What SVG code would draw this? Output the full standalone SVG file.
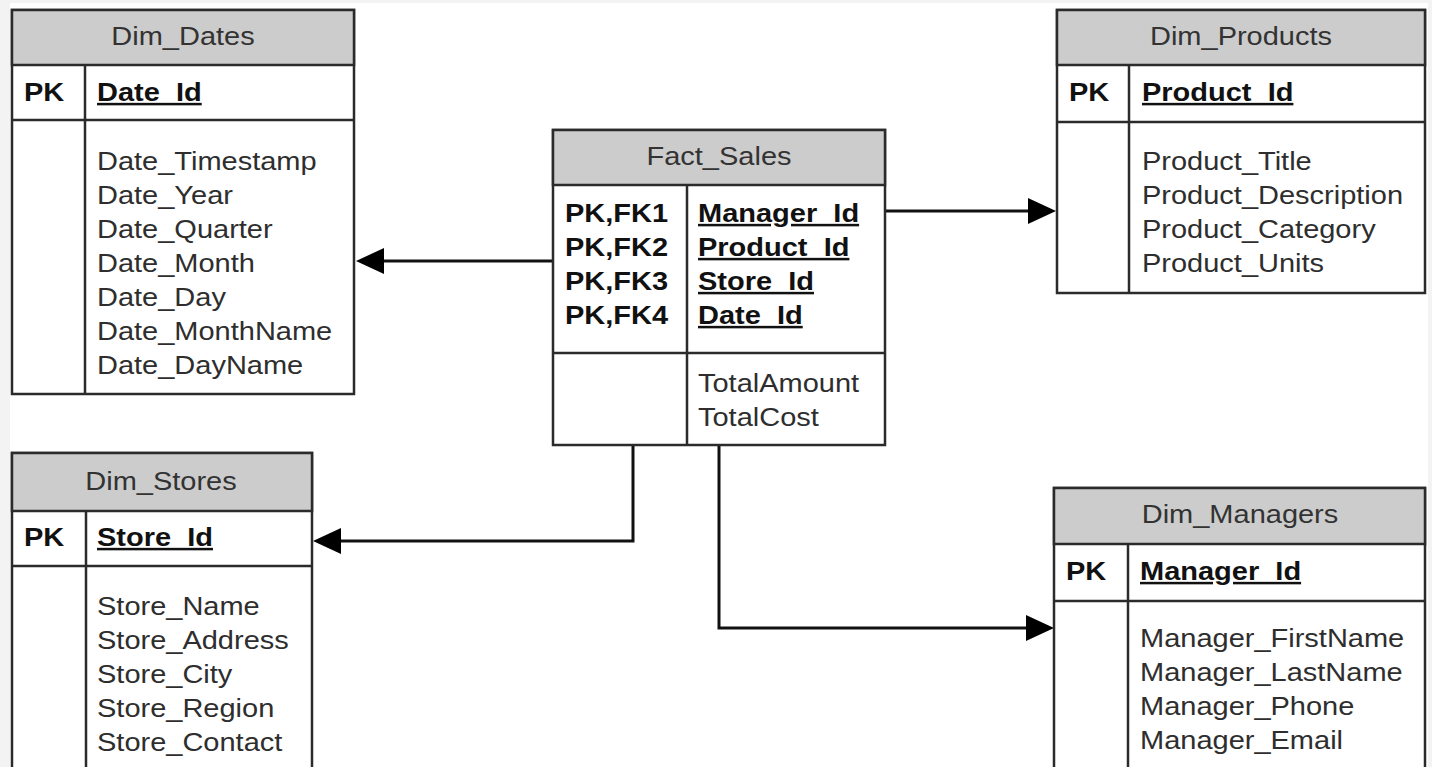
<svg xmlns="http://www.w3.org/2000/svg" width="1432" height="767" viewBox="0 0 1432 767">
<defs>
<style>
.frame{fill:#ffffff;stroke:#2b2b2b;stroke-width:2.5}
.hdr{fill:#cccccc;stroke:#2b2b2b;stroke-width:2.5}
.ln{stroke:#2b2b2b;stroke-width:2.5;fill:none}
.conn{stroke:#111111;stroke-width:3;fill:none}
text{font-family:"Liberation Sans",Arial,sans-serif;font-size:25px;fill:#2e2e2e}
.t{text-anchor:middle;fill:#333333}
.b{font-weight:bold;fill:#111111}
.u{text-decoration:underline}
</style>
<marker id="arr" markerUnits="userSpaceOnUse" markerWidth="30" markerHeight="28" refX="2" refY="13" orient="auto">
<path d="M0,0 L28,13 L0,26 z" fill="#000000"/>
</marker>
</defs>
<rect x="0" y="0" width="1432" height="767" fill="#f3f3f3"/>
<rect x="10" y="3" width="1418" height="764" fill="#ffffff"/>

<g id="connectors">
<path class="conn" d="M553,261 L382,261" marker-end="url(#arr)"/>
<path class="conn" d="M885,211 L1030,211" marker-end="url(#arr)"/>
<path class="conn" d="M633,445 L633,541 L339,541" marker-end="url(#arr)"/>
<path class="conn" d="M719,445 L719,628 L1028,628" marker-end="url(#arr)"/>
</g>

<g id="Dim_Dates">
<rect class="frame" x="12" y="10" width="342" height="384"/>
<rect class="hdr" x="12" y="10" width="342" height="55"/>
<line class="ln" x1="12" y1="120" x2="354" y2="120"/>
<line class="ln" x1="85" y1="65" x2="85" y2="394"/>
<text class="t" transform="translate(183 45) scale(1.16 1)">Dim_Dates</text>
<text class="b" transform="translate(24 101) scale(1.16 1)">PK</text>
<g transform="translate(97 0) scale(1.16 1)">
<text class="b u" y="101">Date_Id</text>
<text y="170">Date_Timestamp</text>
<text y="204">Date_Year</text>
<text y="238">Date_Quarter</text>
<text y="272">Date_Month</text>
<text y="306">Date_Day</text>
<text y="340">Date_MonthName</text>
<text y="374">Date_DayName</text>
</g>
</g>

<g id="Dim_Products">
<rect class="frame" x="1057" y="10" width="368" height="283"/>
<rect class="hdr" x="1057" y="10" width="368" height="55"/>
<line class="ln" x1="1057" y1="122" x2="1425" y2="122"/>
<line class="ln" x1="1129" y1="65" x2="1129" y2="293"/>
<text class="t" transform="translate(1241 45) scale(1.16 1)">Dim_Products</text>
<text class="b" transform="translate(1069 101) scale(1.16 1)">PK</text>
<g transform="translate(1142 0) scale(1.16 1)">
<text class="b u" y="101">Product_Id</text>
<text y="170">Product_Title</text>
<text y="204">Product_Description</text>
<text y="238">Product_Category</text>
<text y="272">Product_Units</text>
</g>
</g>

<g id="Fact_Sales">
<rect class="frame" x="553" y="130" width="332" height="315"/>
<rect class="hdr" x="553" y="130" width="332" height="55"/>
<line class="ln" x1="553" y1="353" x2="885" y2="353"/>
<line class="ln" x1="687" y1="185" x2="687" y2="445"/>
<text class="t" transform="translate(719 165) scale(1.16 1)">Fact_Sales</text>
<g transform="translate(565 0) scale(1.16 1)">
<text class="b" y="222">PK,FK1</text>
<text class="b" y="256">PK,FK2</text>
<text class="b" y="290">PK,FK3</text>
<text class="b" y="324">PK,FK4</text>
</g>
<g transform="translate(698 0) scale(1.16 1)">
<text class="b u" y="222">Manager_Id</text>
<text class="b u" y="256">Product_Id</text>
<text class="b u" y="290">Store_Id</text>
<text class="b u" y="324">Date_Id</text>
<text y="392">TotalAmount</text>
<text y="426">TotalCost</text>
</g>
</g>

<g id="Dim_Stores">
<rect class="frame" x="12" y="453" width="300" height="330"/>
<rect class="hdr" x="12" y="453" width="300" height="58"/>
<line class="ln" x1="12" y1="566" x2="312" y2="566"/>
<line class="ln" x1="86" y1="511" x2="86" y2="783"/>
<text class="t" transform="translate(161 490) scale(1.16 1)">Dim_Stores</text>
<text class="b" transform="translate(24 546) scale(1.16 1)">PK</text>
<g transform="translate(97 0) scale(1.16 1)">
<text class="b u" y="546">Store_Id</text>
<text y="615">Store_Name</text>
<text y="649">Store_Address</text>
<text y="683">Store_City</text>
<text y="717">Store_Region</text>
<text y="751">Store_Contact</text>
</g>
</g>

<g id="Dim_Managers">
<rect class="frame" x="1054" y="488" width="371" height="295"/>
<rect class="hdr" x="1054" y="488" width="371" height="56"/>
<line class="ln" x1="1054" y1="601" x2="1425" y2="601"/>
<line class="ln" x1="1128" y1="544" x2="1128" y2="783"/>
<text class="t" transform="translate(1240 523) scale(1.16 1)">Dim_Managers</text>
<text class="b" transform="translate(1066 580) scale(1.16 1)">PK</text>
<g transform="translate(1140 0) scale(1.16 1)">
<text class="b u" y="580">Manager_Id</text>
<text y="647">Manager_FirstName</text>
<text y="681">Manager_LastName</text>
<text y="715">Manager_Phone</text>
<text y="749">Manager_Email</text>
</g>
</g>
</svg>
